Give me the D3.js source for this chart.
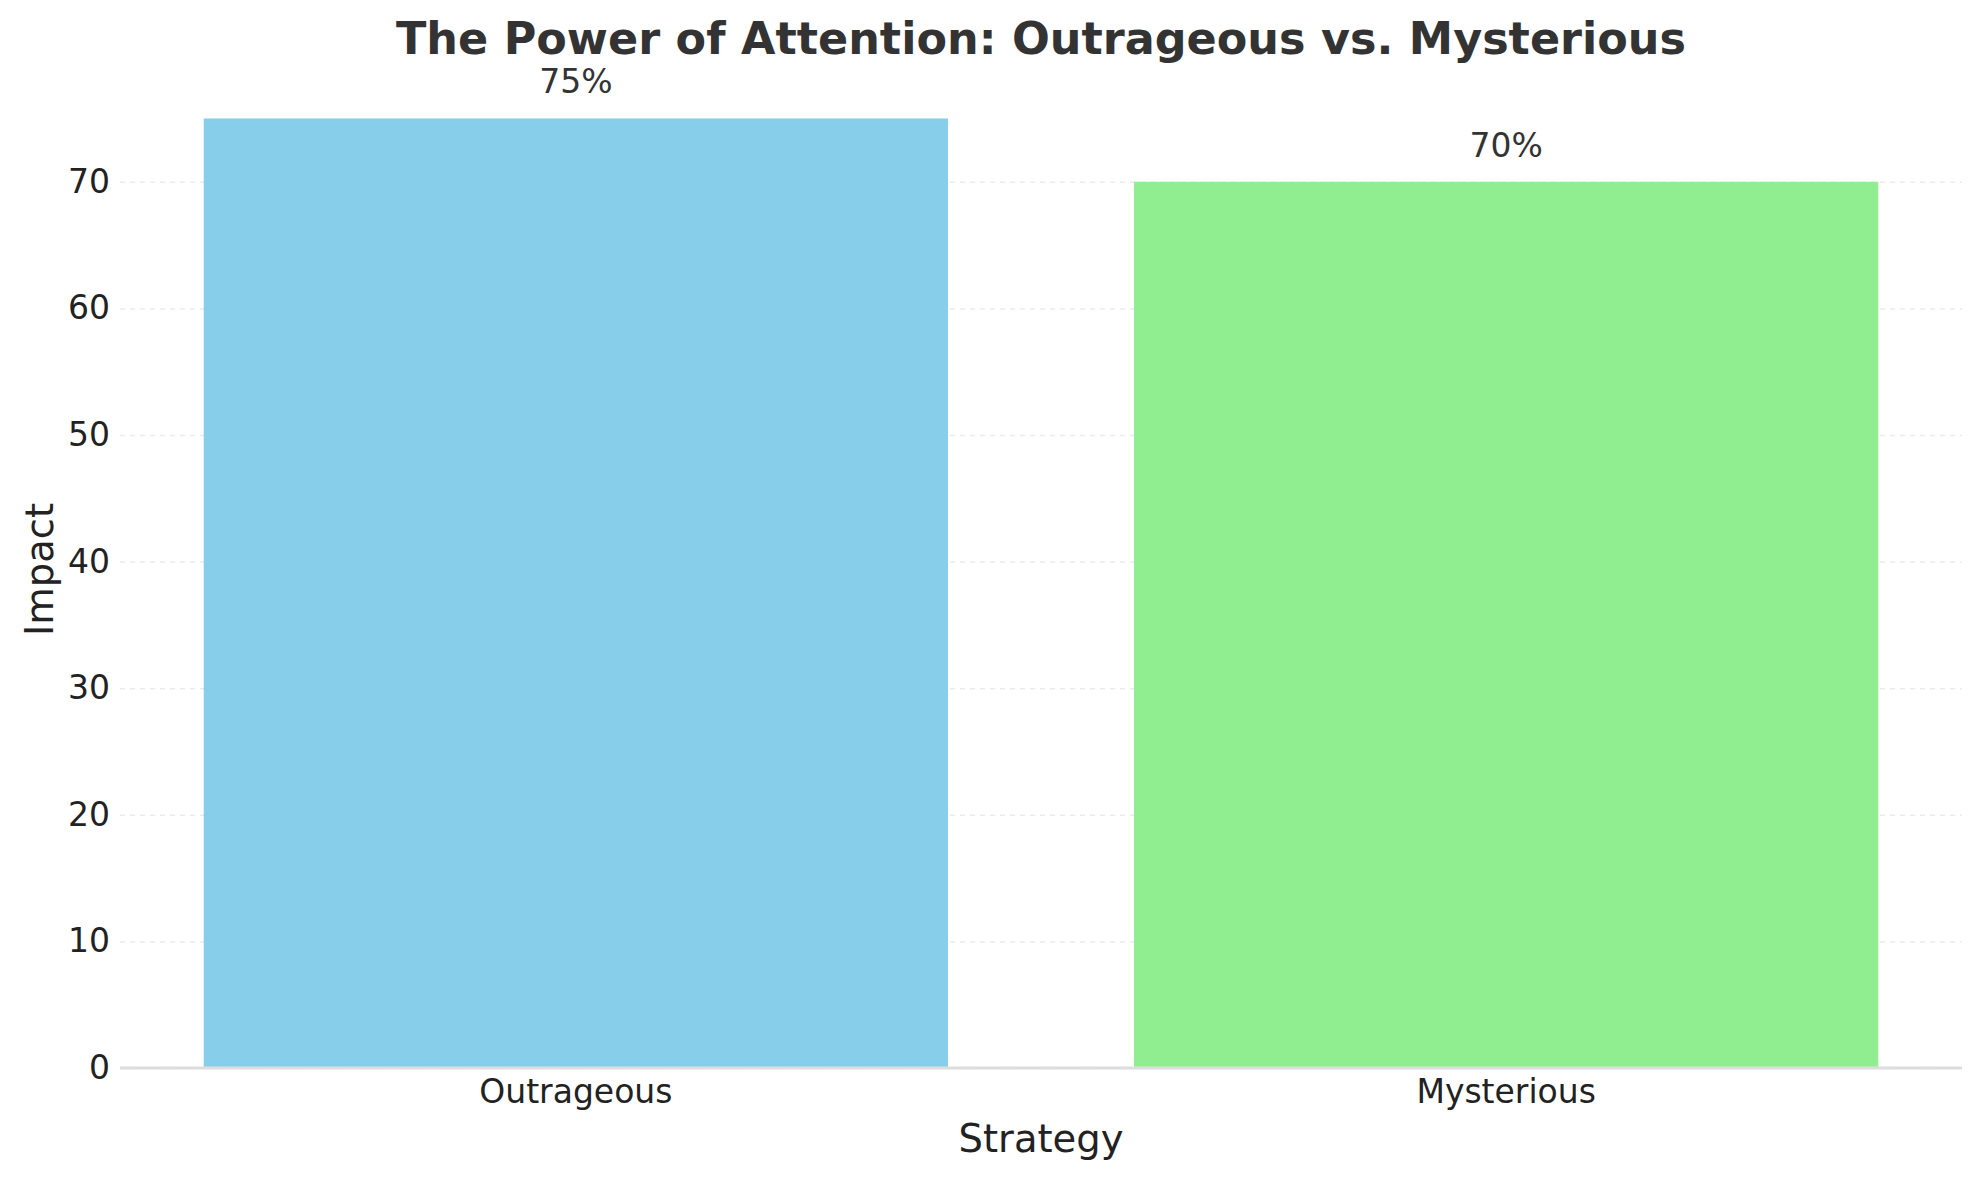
<!DOCTYPE html>
<html>
<head>
<meta charset="utf-8">
<script src="https://cdn.jsdelivr.net/npm/d3@7"></script>
<style>
  html, body { margin: 0; padding: 0; background: #ffffff; }
  svg { display: block; }
  text { font-family: "DejaVu Sans", sans-serif; }
</style>
</head>
<body>
<svg id="chart" width="1979" height="1180"></svg>
<script>
const categories = ["Outrageous", "Mysterious"];
const values = [75, 70];
const barColors = ["#87CEEB", "#90EE90"];
const yTicks = [0, 10, 20, 30, 40, 50, 60, 70];
const titleText = "The Power of Attention: Outrageous vs. Mysterious";
const xLabel = "Strategy";
const yLabel = "Impact";

const svg = d3.select("#chart");
const margin = { left: 120, right: 1979 - 1962, top: 71, bottom: 1180 - 1068 };
const W = 1979, H = 1180;

const x = d3.scaleBand()
  .domain(categories)
  .range([margin.left, W - margin.right])
  .paddingInner(0.2)
  .paddingOuter(0.09);

const y = d3.scaleLinear()
  .domain([0, d3.max(values) * 1.05])
  .range([H - margin.bottom, margin.top]);

// gridlines
const grid = svg.append("g")
  .attr("transform", `translate(${margin.left},0)`)
  .call(d3.axisLeft(y).tickValues(yTicks).tickSize(-(W - margin.left - margin.right)).tickFormat(""));
grid.select(".domain").remove();
grid.selectAll(".tick line")
  .attr("stroke", "#ebebeb")
  .attr("stroke-width", 1.5)
  .attr("stroke-dasharray", "5,5");

// bars
svg.append("g").selectAll("rect")
  .data(categories)
  .join("rect")
  .attr("x", d => x(d))
  .attr("width", x.bandwidth())
  .attr("y", (d, i) => y(values[i]))
  .attr("height", (d, i) => y(0) - y(values[i]))
  .attr("fill", (d, i) => barColors[i]);

// value labels
svg.append("g").selectAll("text")
  .data(categories)
  .join("text")
  .attr("x", d => x(d) + x.bandwidth() / 2)
  .attr("y", (d, i) => y(values[i]) - 25)
  .attr("text-anchor", "middle")
  .attr("font-size", "33px")
  .attr("fill", "#333333")
  .text((d, i) => values[i] + "%");

// y axis
const yAxis = svg.append("g")
  .attr("transform", `translate(${margin.left},0)`)
  .call(d3.axisLeft(y).tickValues(yTicks).tickSize(0).tickPadding(10));
yAxis.select(".domain").remove();
yAxis.selectAll(".tick text")
  .attr("font-size", "33px")
  .attr("font-family", "DejaVu Sans")
  .attr("fill", "#222222");

// x axis
const xAxis = svg.append("g")
  .attr("transform", `translate(0,${y(0)})`)
  .call(d3.axisBottom(x).tickSize(0).tickPadding(12));
xAxis.select(".domain")
  .attr("stroke", "#dddddd")
  .attr("stroke-width", 3)
  .attr("d", `M${margin.left},0H${W - margin.right}`);
xAxis.selectAll(".tick text")
  .attr("font-size", "33px")
  .attr("font-family", "DejaVu Sans")
  .attr("fill", "#222222");

// title
svg.append("text")
  .attr("x", (margin.left + W - margin.right) / 2)
  .attr("y", 54)
  .attr("text-anchor", "middle")
  .attr("font-size", "44.5px")
  .attr("font-weight", "bold")
  .attr("fill", "#333333")
  .text(titleText);

// axis labels
svg.append("text")
  .attr("x", (margin.left + W - margin.right) / 2)
  .attr("y", 1152)
  .attr("text-anchor", "middle")
  .attr("font-size", "38.5px")
  .attr("fill", "#222222")
  .text(xLabel);

svg.append("text")
  .attr("transform", `translate(53,${(margin.top + H - margin.bottom) / 2}) rotate(-90)`)
  .attr("text-anchor", "middle")
  .attr("font-size", "38.5px")
  .attr("fill", "#222222")
  .text(yLabel);
</script>
</body>
</html>
